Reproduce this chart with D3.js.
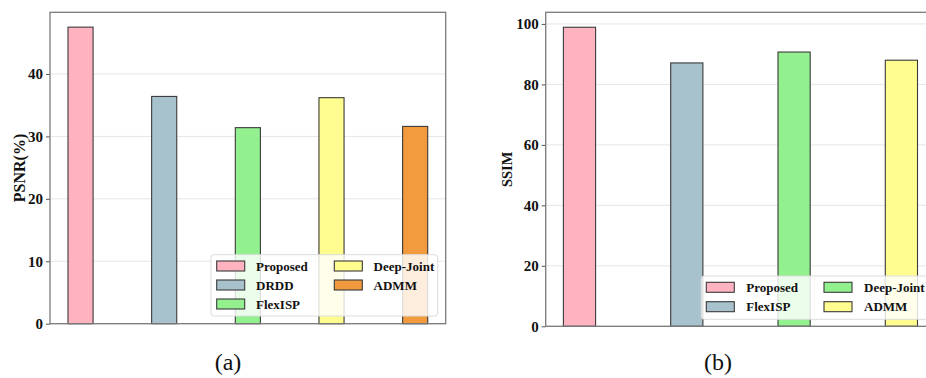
<!DOCTYPE html>
<html>
<head>
<meta charset="utf-8">
<script src="https://cdn.jsdelivr.net/npm/d3@7"></script>
<style>
  html, body { margin: 0; padding: 0; background: #fff; }
  svg { display: block; }
</style>
</head>
<body>
<svg id="chart" width="926" height="378"></svg>
<script>
// données
const psnrCategories = ["Proposed", "DRDD", "FlexISP", "Deep-Joint", "ADMM"];
const psnrValues = [47.5, 36.4, 31.4, 36.2, 31.6];
const psnrTicks = [0, 10, 20, 30, 40];

const ssimCategories = ["Proposed", "FlexISP", "Deep-Joint", "ADMM"];
const ssimValues = [98.9, 87.1, 90.7, 88.0];
const ssimTicks = [0, 20, 40, 60, 80, 100];

const palette = ["#ffb3c1", "#a8c2cd", "#93f08f", "#fffd8f", "#f29a3e"];

const svg = d3.select("#chart");
const serif = "'Liberation Serif', 'Times New Roman', serif";

function drawPanel(opt) {
  const { cats, vals, ticks, left, top, width, bottom, yLabel, labelX, labelSize, caption, captionX, legend } = opt;
  const n = cats.length;
  const w = 0.3;
  const pad = 0.05 * (n - 1 + w);

  const x = d3.scaleLinear()
    .domain([-w / 2 - pad, n - 1 + w / 2 + pad])
    .range([left, left + width]);
  const y = d3.scaleLinear()
    .domain([0, d3.max(vals) * 1.05])
    .range([bottom, top]);

  const g = svg.append("g");

  // grille
  g.append("g").selectAll("line")
    .data(ticks)
    .enter().append("line")
    .attr("x1", left).attr("x2", left + width)
    .attr("y1", d => y(d)).attr("y2", d => y(d))
    .attr("stroke", "#e6e6e6").attr("stroke-width", 1);

  // barres
  g.append("g").selectAll("rect")
    .data(vals)
    .enter().append("rect")
    .attr("x", (d, i) => x(i - w / 2))
    .attr("width", (d, i) => x(i + w / 2) - x(i - w / 2))
    .attr("y", d => y(d))
    .attr("height", d => y(0) - y(d))
    .attr("fill", (d, i) => palette[i])
    .attr("stroke", "#3a3a3a").attr("stroke-width", 1.1);

  // axe y
  const yAxis = d3.axisLeft(y).tickValues(ticks).tickSize(4).tickPadding(3);
  const ax = g.append("g").attr("transform", `translate(${left},0)`).call(yAxis);
  ax.attr("font-family", serif).attr("font-size", 15);
  ax.select(".domain").remove();
  ax.selectAll(".tick line").attr("stroke", "#555");
  ax.selectAll(".tick text")
    .attr("fill", "#111")
    .style("font-family", serif).style("font-weight", "bold").style("font-size", "15px");

  // cadre
  g.append("rect")
    .attr("x", left).attr("y", top)
    .attr("width", width).attr("height", bottom - top)
    .attr("fill", "none").attr("stroke", "#7a7a7a").attr("stroke-width", 1.3);

  // titre de l'axe
  g.append("text")
    .attr("transform", `translate(${labelX},${(top + bottom) / 2}) rotate(-90)`)
    .attr("text-anchor", "middle").attr("dy", "0.35em")
    .style("font-family", serif).style("font-weight", "bold").style("font-size", labelSize + "px")
    .attr("fill", "#111")
    .text(yLabel);

  // légende
  const lg = g.append("g");
  lg.append("rect")
    .attr("x", legend.x).attr("y", legend.y)
    .attr("width", legend.w).attr("height", legend.h)
    .attr("rx", 3)
    .attr("fill", "#fff").attr("fill-opacity", 0.82)
    .attr("stroke", "#dcdcdc").attr("stroke-width", 1);

  const items = lg.selectAll("g.item")
    .data(cats)
    .enter().append("g")
    .attr("class", "item")
    .attr("transform", (d, i) => {
      const col = Math.floor(i / legend.rows);
      const row = i % legend.rows;
      return `translate(${legend.colX[col]},${legend.rowY[row]})`;
    });
  items.append("rect")
    .attr("x", 0).attr("y", -5)
    .attr("width", 28).attr("height", 10)
    .attr("fill", (d, i) => palette[i])
    .attr("stroke", "#3a3a3a").attr("stroke-width", 1.1);
  items.append("text")
    .attr("x", legend.textDx).attr("dy", "0.35em")
    .style("font-family", serif).style("font-weight", "bold").style("font-size", "13px")
    .attr("fill", "#111")
    .text(d => d);

  // légende de sous-figure
  svg.append("text")
    .attr("x", captionX).attr("y", 370)
    .attr("text-anchor", "middle")
    .style("font-family", serif).style("font-size", "24px")
    .attr("fill", "#111")
    .text(caption);
}

drawPanel({
  cats: psnrCategories, vals: psnrValues, ticks: psnrTicks,
  left: 50, top: 12.3, width: 395.7, bottom: 323.7,
  yLabel: "PSNR(%)", labelX: 19, labelSize: 16,
  caption: "(a)", captionX: 228,
  legend: { x: 211, y: 254.7, w: 226.7, h: 61.3, rows: 3,
            colX: [216.7, 334.3], rowY: [266, 285, 304], textDx: 39.3 }
});

drawPanel({
  cats: ssimCategories, vals: ssimValues, ticks: ssimTicks,
  left: 545.7, top: 12.3, width: 389.5, bottom: 326.3,
  yLabel: "SSIM", labelX: 507.3, labelSize: 14.5,
  caption: "(b)", captionX: 718,
  legend: { x: 701.3, y: 276, w: 240, h: 43.3, rows: 2,
            colX: [706.3, 824], rowY: [287.3, 306.7], textDx: 40 }
});
</script>
</body>
</html>
